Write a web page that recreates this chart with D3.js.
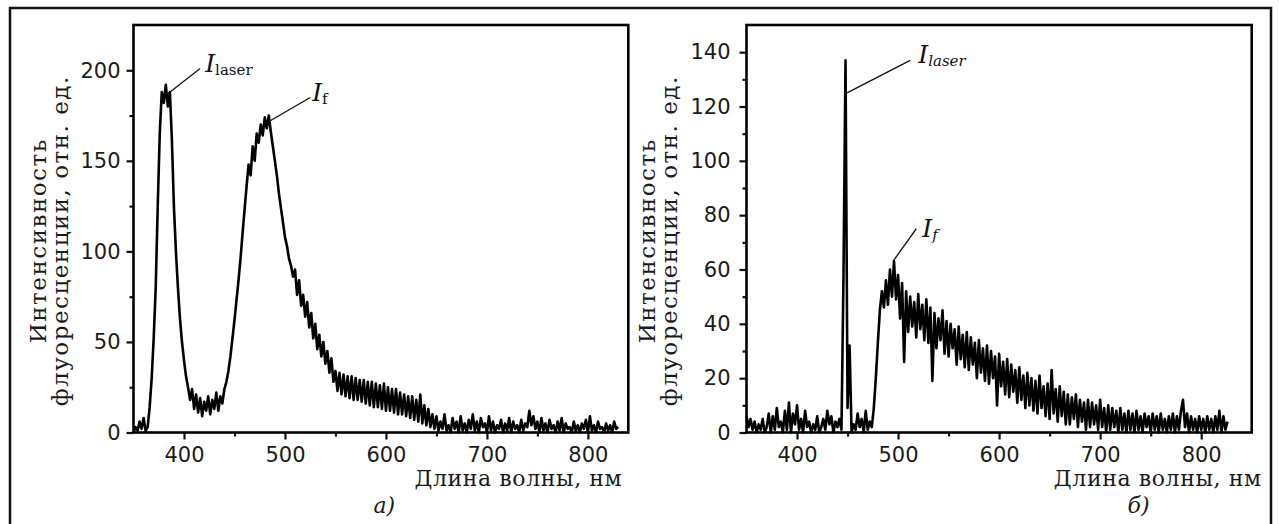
<!DOCTYPE html>
<html>
<head>
<meta charset="utf-8">
<script src="https://cdn.jsdelivr.net/npm/d3@7"></script>
<style>
  body { margin: 0; background: #fff; }
  .tick text { font-family: "DejaVu Sans", sans-serif; font-size: 21px; fill: #1a1a1a; }
  .tick line { stroke: #111; stroke-width: 2.2; }
  .lbl { font-family: "DejaVu Serif", serif; fill: #1a1a1a; }
  .ann { font-family: "DejaVu Serif", serif; fill: #111; }
</style>
</head>
<body>
<svg id="fig" width="1279" height="524"></svg>
<script>
// spectra: intensity every 2 nm starting at 350 nm
var waveStart = 350, waveStep = 2;

// panel a) laser peak + fluorescence band
var intensA = [
  0, 3, 1, 6, 2, 8, 1, 3, 14, 30,            // 350
  52, 80, 125, 165, 188, 182, 192, 180, 188, 162, // 370
  125, 100, 80, 63, 50, 40, 31, 25, 18, 24,  // 390
  13, 21, 11, 19, 9, 17, 12, 20, 10, 18,     // 410
  13, 22, 12, 20, 16, 24, 28, 34, 42, 52,    // 430
  62, 73, 84, 96, 110, 123, 136, 148, 142, 158, // 450
  150, 165, 160, 170, 164, 174, 168, 175, 166, 158, // 470
  150, 142, 132, 124, 116, 108, 103, 96, 92, 86, // 490
  90, 76, 84, 70, 76, 64, 72, 58, 66, 52,    // 510
  60, 46, 54, 42, 50, 38, 45, 33, 41, 28,    // 530
  34, 23, 33, 21, 32, 20, 31, 19, 31, 18,    // 550
  30, 18, 29, 17, 29, 16, 28, 15, 28, 14,    // 570
  27, 14, 26, 13, 27, 12, 25, 12, 24, 11,    // 590
  24, 10, 22, 10, 21, 9, 20, 8, 20, 7,       // 610
  18, 6, 21, 5, 15, 4, 13, 3, 10, 2,         // 630
  9, 1, 6, 2, 10, 1, 4, 0, 8, 2,             // 650
  6, 0, 9, 1, 5, 0, 7, 2, 10, 1,             // 670
  6, 0, 8, 3, 5, 0, 9, 1, 6, 0,              // 690
  4, 2, 7, 0, 5, 1, 8, 0, 6, 2,              // 710
  4, 0, 7, 1, 5, 3, 12, 4, 9, 2,             // 730
  6, 0, 8, 1, 5, 0, 7, 2, 4, 0,              // 750
  6, 1, 8, 0, 5, 2, 3, 0, 6, 1,              // 770
  4, 0, 5, 2, 7, 0, 9, 1, 4, 0,              // 790
  6, 2, 3, 0, 5, 1, 4, 0, 6, 2,              // 810
  3                                          // 830
];

// panel б) narrow laser line + fluorescence band
var intensB = [
  6, 2, 5, 1, 4, 0, 3, 1, 5, 0,              // 350
  2, 7, 0, 6, 1, 9, 2, 4, 0, 8,              // 370
  1, 11, 0, 7, 3, 10, 1, 5, 0, 8,            // 390
  2, 4, 0, 3, 1, 6, 0, 2, 5, 1,              // 410
  8, 3, 6, 0, 4, 2, 5, 1, 58, 137,           // 430
  9, 32, 0, 3, 1, 7, 2, 5, 0, 8,             // 450
  1, 4, 2, 9, 20, 33, 45, 52, 46, 56,        // 470
  47, 60, 50, 63, 49, 58, 42, 55, 26, 52,    // 490
  37, 50, 39, 48, 35, 51, 38, 47, 34, 49,    // 510
  33, 46, 19, 44, 31, 42, 34, 45, 29, 41,    // 530
  28, 40, 31, 38, 25, 39, 27, 36, 24, 37,    // 550
  23, 35, 25, 33, 20, 34, 22, 31, 19, 32,    // 570
  18, 30, 20, 28, 10, 29, 17, 26, 14, 27,    // 590
  13, 25, 15, 23, 11, 24, 12, 21, 9, 22,     // 610
  10, 20, 8, 19, 7, 21, 9, 17, 6, 18,        // 630
  5, 23, 7, 16, 4, 17, 6, 15, 3, 14,         // 650
  3, 13, 5, 14, 2, 12, 4, 11, 1, 12,         // 670
  2, 11, 3, 10, 1, 12, 2, 9, 0, 10,          // 690
  1, 9, 2, 8, 0, 9, 1, 7, 0, 8,              // 710
  1, 7, 0, 8, 1, 6, 0, 7, 2, 6,              // 730
  0, 7, 1, 6, 0, 7, 1, 5, 0, 6,              // 750
  1, 7, 0, 6, 1, 8, 12, 2, 7, 0,             // 770
  6, 1, 5, 0, 6, 1, 5, 0, 6, 1,              // 790
  5, 0, 6, 1, 8, 0, 6, 1, 4                  // 810
];

var xDomainA = [350, 840], xDomainB = [350, 850];
var yDomainA = [0, 225], yDomainB = [0, 150];
var xTicks = [400, 500, 600, 700, 800];
var xMinor = [450, 550, 650, 750];
var yTicksA = [0, 50, 100, 150, 200];
var yMinorA = [25, 75, 125, 175];
var yTicksB = [0, 20, 40, 60, 80, 100, 120, 140];
var yMinorB = [10, 30, 50, 70, 90, 110, 130];

var yTitle = ["Интенсивность", "флуоресценции, отн. ед."];
var xTitle = "Длина волны, нм";
var panelTags = ["а)", "б)"];

// annotation anchors in data units: [from, to, text position]
var annA = [
  {sub: "laser", subItalic: false, from: [384, 187], to: [416, 201], at: [421, 199]},
  {sub: "f", subItalic: false, from: [482, 171], to: [525, 185], at: [527, 183]}
];
var annB = [
  {sub: "laser", subItalic: true, from: [449.5, 125], to: [512, 137], at: [520, 136]},
  {sub: "f", subItalic: true, from: [495, 63], to: [518, 75], at: [524, 72]}
];

var svg = d3.select("#fig");

svg.append("rect")
  .attr("x", 10).attr("y", 8)
  .attr("width", 1261).attr("height", 530)
  .attr("fill", "none").attr("stroke", "#111").attr("stroke-width", 2.5);

function drawPanel(p) {
  var x = d3.scaleLinear().domain(p.xDomain).range([p.left, p.right]);
  var y = d3.scaleLinear().domain(p.yDomain).range([p.bottom, p.top]);
  var g = svg.append("g");

  // minor ticks first
  g.append("g")
    .attr("transform", "translate(0," + p.bottom + ")")
    .call(d3.axisBottom(x).tickValues(xMinor).tickSize(4).tickFormat(""))
    .call(function(s) { s.select(".domain").remove(); });
  g.append("g")
    .attr("transform", "translate(" + p.left + ",0)")
    .call(d3.axisLeft(y).tickValues(p.yMinor).tickSize(4).tickFormat(""))
    .call(function(s) { s.select(".domain").remove(); });

  g.append("g")
    .attr("transform", "translate(0," + p.bottom + ")")
    .call(d3.axisBottom(x).tickValues(xTicks).tickSize(7).tickPadding(8).tickFormat(d3.format("d")))
    .call(function(s) { s.select(".domain").remove(); });
  g.append("g")
    .attr("transform", "translate(" + p.left + ",0)")
    .call(d3.axisLeft(y).tickValues(p.yTicks).tickSize(7).tickPadding(p.yPad).tickFormat(d3.format("d")))
    .call(function(s) { s.select(".domain").remove(); });

  var line = d3.line()
    .x(function(d, i) { return x(waveStart + i * waveStep); })
    .y(function(d) { return y(d); });

  g.append("path")
    .datum(p.data)
    .attr("d", line)
    .attr("fill", "none")
    .attr("stroke", "#000")
    .attr("stroke-width", 2.6)
    .attr("stroke-linejoin", "round");

  g.append("rect")
    .attr("x", p.left).attr("y", p.top)
    .attr("width", p.right - p.left).attr("height", p.bottom - p.top)
    .attr("fill", "none").attr("stroke", "#000").attr("stroke-width", 2.6);

  // annotations
  p.ann.forEach(function(a) {
    g.append("line")
      .attr("x1", x(a.from[0])).attr("y1", y(a.from[1]))
      .attr("x2", x(a.to[0])).attr("y2", y(a.to[1]))
      .attr("stroke", "#111").attr("stroke-width", 1.3);
    var t = g.append("text").attr("class", "ann")
      .attr("x", x(a.at[0])).attr("y", y(a.at[1]));
    t.append("tspan").attr("font-size", 25).attr("font-style", "italic").text("I");
    t.append("tspan").attr("font-size", 15).attr("dy", 3)
      .attr("font-style", a.subItalic ? "italic" : "normal").text(a.sub);
  });

  // axis titles
  var yt = g.append("g")
    .attr("transform", "translate(" + p.yTitleX + "," + ((p.top + p.bottom) / 2 + 12) + ") rotate(-90)");
  yt.selectAll("text").data(yTitle).enter().append("text")
    .attr("class", "lbl")
    .attr("font-size", 23)
    .attr("letter-spacing", 1.5)
    .attr("text-anchor", "middle")
    .attr("y", function(d, i) { return i * 22; })
    .text(function(d) { return d; });

  g.append("text").attr("class", "lbl")
    .attr("font-size", 22)
    .attr("letter-spacing", 0.6)
    .attr("text-anchor", "end")
    .attr("x", p.right + p.xTitleDx).attr("y", p.bottom + 53.5)
    .text(xTitle);

  g.append("text").attr("class", "lbl")
    .attr("font-style", "italic").attr("font-size", 22)
    .attr("x", p.left + p.tagDx).attr("y", p.bottom + 80.5)
    .text(p.tag);
}

drawPanel({
  data: intensA, xDomain: xDomainA, yDomain: yDomainA,
  yTicks: yTicksA, yMinor: yMinorA, ann: annA,
  left: 133.5, right: 628.3, top: 25, bottom: 432.5,
  yPad: 6, yTitleX: 46, xTitleDx: -6, tagDx: 240, tag: panelTags[0]
});

drawPanel({
  data: intensB, xDomain: xDomainB, yDomain: yDomainB,
  yTicks: yTicksB, yMinor: yMinorB, ann: annB,
  left: 746.5, right: 1251.7, top: 25, bottom: 432.5,
  yPad: 9, yTitleX: 655, xTitleDx: 10, tagDx: 381, tag: panelTags[1]
});
</script>
</body>
</html>
